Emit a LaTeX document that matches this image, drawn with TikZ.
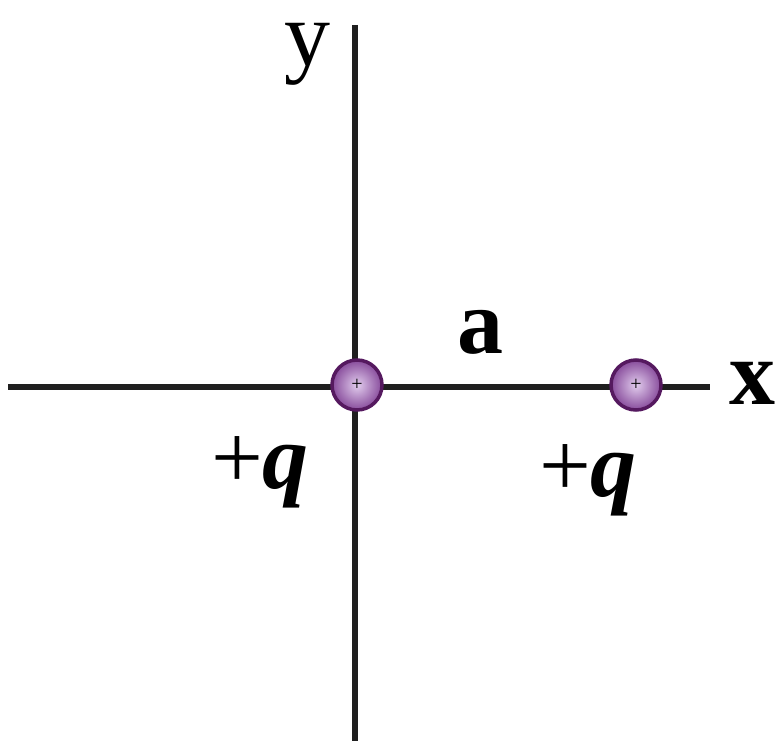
\documentclass[tikz,border=0pt]{standalone}
\usepackage{fontspec}
\setmainfont{Liberation Serif}
\definecolor{chg}{RGB}{205,170,225}
\definecolor{chgout}{RGB}{135,75,155}
\definecolor{chgring}{RGB}{85,25,95}
\begin{document}
\begin{tikzpicture}[x=1pt,y=-1pt,
  axis/.style={line width=6.5pt,draw=black!88},
  charge/.style={circle,minimum size=50pt,inner sep=0pt,draw=chgring,line width=3.5pt,
    inner color=chg!60!white,outer color=chgout,font=\fontsize{20}{20}\selectfont},
  lbl/.style={font=\fontsize{92}{92}\selectfont\bfseries,inner sep=0pt}]
\useasboundingbox (0,0) rectangle (775,741);
\coordinate (ytop) at (355,25);
\coordinate (ybot) at (355,741);
\coordinate (xl) at (8,387);
\coordinate (xr) at (710,387);
\draw[axis] (ytop) -- (ybot);
\draw[axis] (xl) -- (xr);
\node[charge] (q1) at (357,385) {+};
\node[charge] (q2) at (636,385) {+};
\node[lbl,font=\fontsize{92}{92}\selectfont] (ylab) at (307,54) {y};
\node[lbl] (xlab) at (752,383) {x};
\node[lbl] (alab) at (480,332) {a};
\node[lbl] (q1lab) at (260,472) {\mdseries+\bfseries\textit{q}};
\node[lbl] (q2lab) at (588,480) {\mdseries+\bfseries\textit{q}};
\end{tikzpicture}
\end{document}
